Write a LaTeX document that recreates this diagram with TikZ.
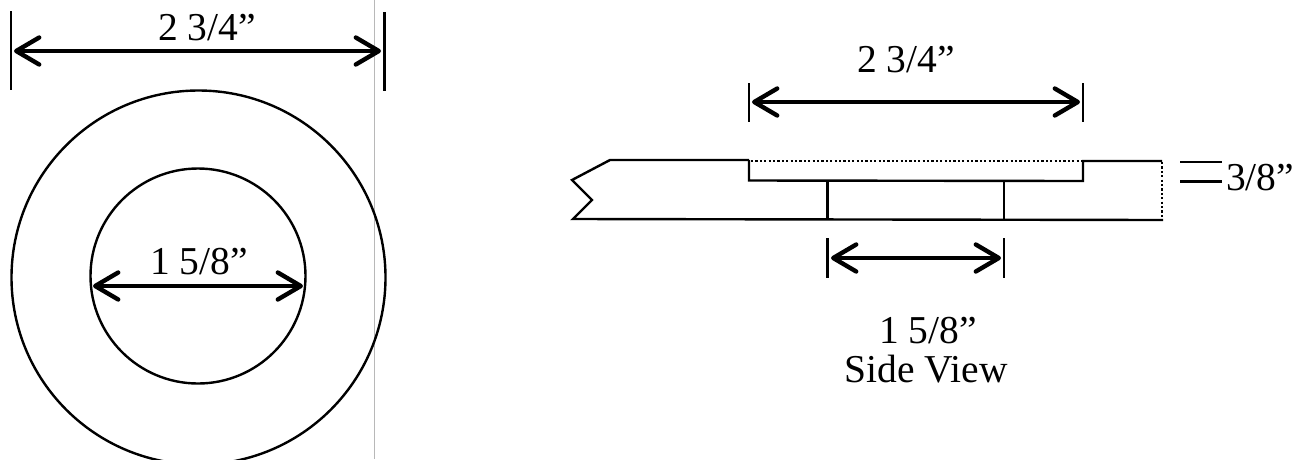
\documentclass[tikz,border=0pt]{standalone}
\usepackage{fontspec}
\setmainfont{Liberation Serif}
\usetikzlibrary{arrows.meta}
\tikzset{
  line/.style={line width=2.4pt,black,line join=miter},
  barb/.tip={Straight Barb[length=23pt,width=27pt,line width=4.4pt,round]},
  dimline/.style={line width=3.4pt,black,{barb}-{barb}},
  tick/.style={line width=2.3pt,black},
  dots/.style={line width=2.6pt,black,dash pattern=on 2.2pt off 2.2pt},
  lbl/.style={font=\fontsize{39.5}{44}\selectfont,inner sep=0pt,anchor=base,text=black}
}
\begin{document}
\begin{tikzpicture}[x=1pt,y=-1pt]
\useasboundingbox (0,0) rectangle (1305,459);
\fill[white] (0,0) rectangle (1305,459);
% front view
\begin{scope}
\clip (0,0) rectangle (1305,459);
\draw[line width=0.9pt,black!28] (374.5,0) -- (374.5,459);
\draw[line] (198.5,277.5) circle [radius=187];
\draw[line] (198,276) circle [radius=107.5];
\end{scope}
\coordinate (tl1) at (11,11); \coordinate (tl2) at (11,90);
\coordinate (tr1) at (384.5,12); \coordinate (tr2) at (384.5,91);
\draw[tick] (tl1) -- (tl2);
\draw[tick] (tr1) -- (tr2);
\coordinate (fa) at (14,51); \coordinate (fb) at (381,51);
\draw[dimline] (fa) -- (fb);
\coordinate (ia) at (93,286); \coordinate (ib) at (303,286);
\draw[dimline] (ia) -- (ib);
\node[lbl] (fo) at (207,40) {2 3/4”};
\node[lbl] (fi) at (199,274) {1 5/8”};
% side view
\draw[line] (749,160) -- (610,160) -- (572,180) -- (592,200) -- (573,219) -- (1163,220);
\draw[line] (749,160) -- (749,180.5) -- (1083,181) -- (1083,161) -- (1162,161);
\draw[line] (827.5,180.5) -- (827.5,219);
\draw[line] (1004,181) -- (1004,220);
\draw[dots] (751,161) -- (1083,161);
\draw[dots] (1162,162) -- (1162,220);
\draw[tick] (749,83) -- (749,122);
\draw[tick] (1083,83) -- (1083,122);
\coordinate (sa) at (752,102); \coordinate (sb) at (1080,102);
\draw[dimline] (sa) -- (sb);
\draw[tick] (827.5,238) -- (827.5,278);
\draw[tick] (1004,238) -- (1004,278);
\coordinate (da) at (831,258); \coordinate (db) at (1001,258);
\draw[dimline] (da) -- (db);
\draw[line] (1180,162) -- (1222,162);
\draw[line] (1180,181.5) -- (1222,181.5);
\node[lbl] (so) at (906,72) {2 3/4”};
\node[lbl] (th) at (1260,190) {3/8”};
\node[lbl] (sd) at (928,343) {1 5/8”};
\node[lbl] (sv) at (926,382) {Side View};
\end{tikzpicture}
\end{document}
